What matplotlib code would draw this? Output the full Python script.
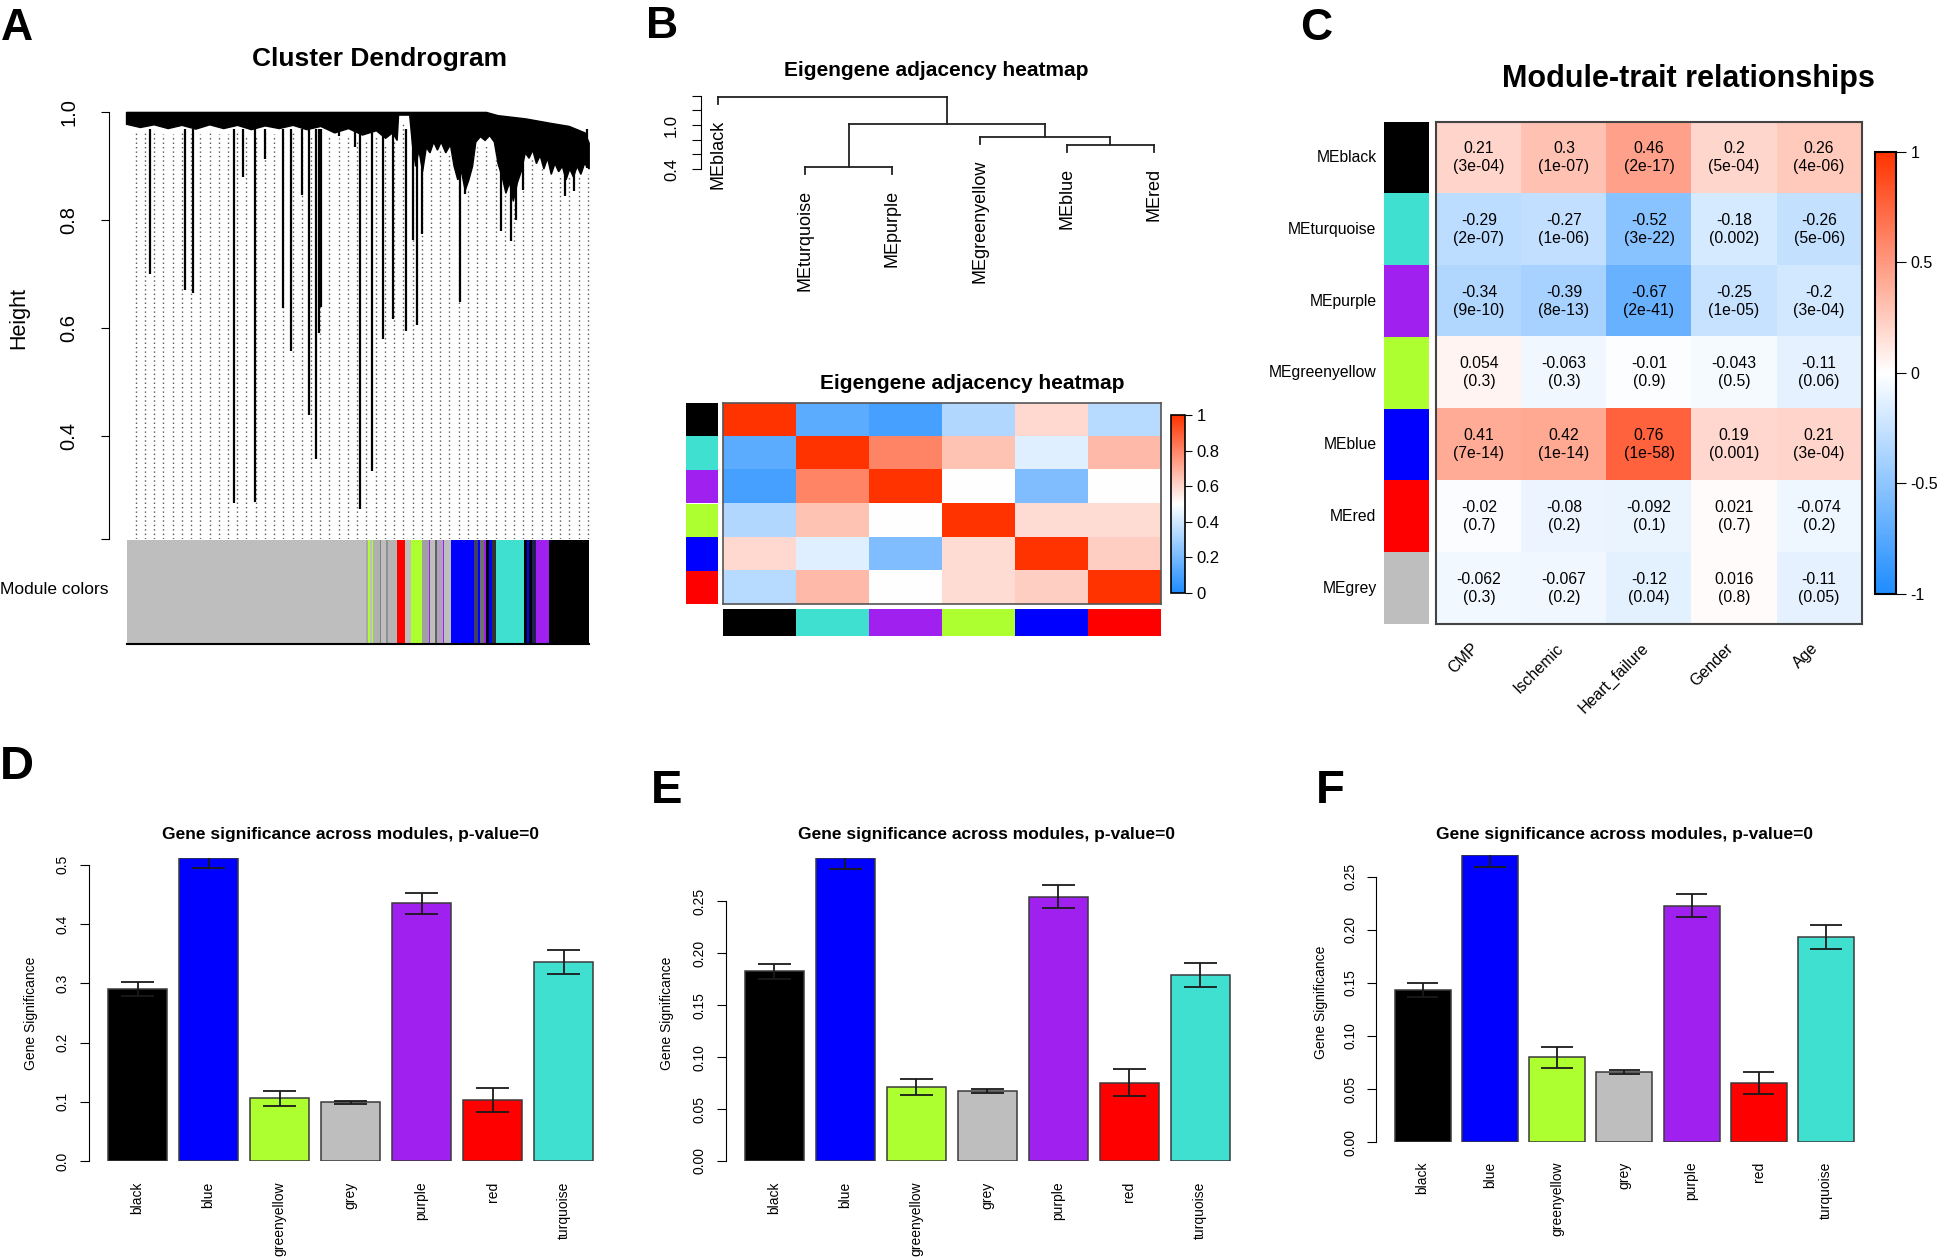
import numpy as np
import matplotlib
matplotlib.use('Agg')
import matplotlib.pyplot as plt
from matplotlib.colors import LinearSegmentedColormap, Normalize
from matplotlib.cm import ScalarMappable

plt.rcParams['font.family'] = ['Liberation Sans', 'DejaVu Sans']

# R colour names used by WGCNA
rcol = {'black': '#000000', 'blue': '#0000FF', 'greenyellow': '#ADFF2F', 'grey': '#BEBEBE',
        'purple': '#A020F0', 'red': '#FF0000', 'turquoise': '#40E0D0'}
bwr = LinearSegmentedColormap.from_list('bwr_wgcna', ['#1E8CFF', '#FFFFFF', '#FF3300'])

# ---------------- data ----------------
# A: gene dendrogram, x = fraction along leaf order
band_top_x = [0.0, 0.59, 0.778, 0.803, 0.863, 0.915, 0.957, 0.991, 1.0]
band_top_h = [1.0, 1.0, 1.0, 0.994, 0.988, 0.980, 0.974, 0.962, 0.943]
band_low_x = [0.0, 0.03, 0.06, 0.09, 0.12, 0.15, 0.18, 0.21, 0.24, 0.27, 0.30, 0.33, 0.36, 0.39,
              0.42, 0.45, 0.48, 0.51, 0.54, 0.56, 0.575, 0.585, 0.588, 0.612, 0.618, 0.625, 0.632,
              0.64, 0.648, 0.656, 0.664, 0.672, 0.68, 0.69, 0.70, 0.708, 0.716, 0.724, 0.732, 0.74,
              0.748, 0.755, 0.765, 0.775, 0.785, 0.795, 0.803, 0.812, 0.82, 0.828, 0.836, 0.845,
              0.853, 0.862, 0.87, 0.878, 0.886, 0.894, 0.902, 0.91, 0.918, 0.926, 0.934, 0.942,
              0.95, 0.958, 0.966, 0.974, 0.982, 0.99, 1.0]
band_low_h = [0.978, 0.972, 0.977, 0.970, 0.976, 0.969, 0.977, 0.970, 0.976, 0.968, 0.975, 0.970,
              0.976, 0.968, 0.974, 0.962, 0.970, 0.958, 0.966, 0.952, 0.962, 0.948, 0.995, 0.995,
              0.94, 0.90, 0.93, 0.89, 0.935, 0.925, 0.945, 0.93, 0.945, 0.925, 0.94, 0.90, 0.875,
              0.89, 0.855, 0.875, 0.90, 0.945, 0.955, 0.948, 0.957, 0.945, 0.905, 0.88, 0.85, 0.87,
              0.835, 0.87, 0.89, 0.925, 0.915, 0.93, 0.905, 0.92, 0.895, 0.915, 0.885, 0.905, 0.89,
              0.90, 0.875, 0.895, 0.88, 0.90, 0.885, 0.905, 0.895]
drop_x = [0.051, 0.126, 0.143, 0.232, 0.252, 0.278, 0.299, 0.339, 0.355, 0.380, 0.395, 0.410,
          0.415, 0.421, 0.460, 0.494, 0.504, 0.530, 0.554, 0.575, 0.603, 0.620, 0.628, 0.638,
          0.721, 0.731, 0.810, 0.832, 0.842, 0.857, 0.947, 0.968, 0.996]
drop_h = [0.70, 0.671, 0.666, 0.275, 0.88, 0.277, 0.913, 0.637, 0.558, 0.847, 0.439, 0.357,
          0.591, 0.64, 0.957, 0.935, 0.265, 0.335, 0.579, 0.617, 0.594, 0.763, 0.605, 0.775,
          0.648, 0.849, 0.78, 0.762, 0.80, 0.857, 0.845, 0.855, 0.896]
mod_edges = [0.0, 0.517, 0.523, 0.526, 0.530, 0.533, 0.548, 0.551, 0.562, 0.565, 0.585, 0.603,
             0.615, 0.639, 0.654, 0.657, 0.668, 0.671, 0.684, 0.687, 0.701, 0.752, 0.760, 0.765,
             0.772, 0.777, 0.784, 0.790, 0.799, 0.859, 0.866, 0.870, 0.877, 0.885, 0.913, 1.0]
mod_cols = ['#BEBEBE', '#A9A9A9', '#ADFF2F', '#BEBEBE', '#ADFF2F', '#B0B0B0', '#808080', '#BEBEBE',
            '#909090', '#B5B5B5', '#FF0000', '#BEBEBE', '#ADFF2F', '#A0A0A0', '#A020F0', '#BEBEBE',
            '#606060', '#B0A0C0', '#A020F0', '#BEBEBE', '#0000FF', '#404060', '#0000FF', '#707070',
            '#A020F0', '#000000', '#0000FF', '#303030', '#40E0D0', '#000000', '#0000FF', '#000000',
            '#202050', '#A020F0', '#000000']
n_guides = 50

# B: eigengene dendrogram + adjacency
me_names = ['MEblack', 'MEturquoise', 'MEpurple', 'MEgreenyellow', 'MEblue', 'MEred']
me_cols = ['black', 'turquoise', 'purple', 'greenyellow', 'blue', 'red']
me_merges = [(-2, -3, 0.431), (-5, -6, 0.724), (-4, 2, 0.841), (1, 3, 1.014), (-1, 4, 1.387)]
adjacency = np.array([
    [1.00, 0.14, 0.09, 0.33, 0.59, 0.34],
    [0.14, 1.00, 0.80, 0.645, 0.43, 0.67],
    [0.09, 0.80, 1.00, 0.50, 0.215, 0.50],
    [0.33, 0.645, 0.50, 1.00, 0.585, 0.585],
    [0.59, 0.43, 0.215, 0.585, 1.00, 0.62],
    [0.34, 0.67, 0.50, 0.585, 0.62, 1.00]])

# C: module-trait relationships
mt_rows = ['MEblack', 'MEturquoise', 'MEpurple', 'MEgreenyellow', 'MEblue', 'MEred', 'MEgrey']
mt_row_cols = ['black', 'turquoise', 'purple', 'greenyellow', 'blue', 'red', 'grey']
traits = ['CMP', 'Ischemic', 'Heart_failure', 'Gender', 'Age']
mt_cor = np.array([
    [0.21, 0.3, 0.46, 0.2, 0.26],
    [-0.29, -0.27, -0.52, -0.18, -0.26],
    [-0.34, -0.39, -0.67, -0.25, -0.2],
    [0.054, -0.063, -0.01, -0.043, -0.11],
    [0.41, 0.42, 0.76, 0.19, 0.21],
    [-0.02, -0.08, -0.092, 0.021, -0.074],
    [-0.062, -0.067, -0.12, 0.016, -0.11]])
mt_p = [['3e-04', '1e-07', '2e-17', '5e-04', '4e-06'],
        ['2e-07', '1e-06', '3e-22', '0.002', '5e-06'],
        ['9e-10', '8e-13', '2e-41', '1e-05', '3e-04'],
        ['0.3', '0.3', '0.9', '0.5', '0.06'],
        ['7e-14', '1e-14', '1e-58', '0.001', '3e-04'],
        ['0.7', '0.2', '0.1', '0.7', '0.2'],
        ['0.3', '0.2', '0.04', '0.8', '0.05']]

# D/E/F: gene significance across modules
modules = ['black', 'blue', 'greenyellow', 'grey', 'purple', 'red', 'turquoise']
gs_d = [0.291, 0.512, 0.106, 0.099, 0.435, 0.103, 0.336]
err_d = [0.012, 0.017, 0.013, 0.003, 0.0175, 0.020, 0.0195]
gs_e = [0.1826, 0.292, 0.0716, 0.0677, 0.2545, 0.0754, 0.1788]
err_e = [0.0074, 0.011, 0.0077, 0.002, 0.011, 0.0133, 0.0116]
gs_f = [0.1433, 0.2704, 0.080, 0.0662, 0.2227, 0.0558, 0.1935]
err_f = [0.0063, 0.011, 0.010, 0.002, 0.0107, 0.0104, 0.0113]

# ---------------- figure ----------------
W, H = 1946, 1257
fig = plt.figure(figsize=(W / 100, H / 100), dpi=100)


def box(x0, y0, x1, y1):
    return fig.add_axes([x0 / W, 1 - y1 / H, (x1 - x0) / W, (y1 - y0) / H])


def ftext(x, y, s, **kw):
    return fig.text(x / W, 1 - y / H, s, **kw)


def only_left(ax):
    for s in ['top', 'right', 'bottom']:
        ax.spines[s].set_visible(False)


# panel letters
for let, x, y, sz in [('A', 1, 40, 32), ('B', 646, 38, 32), ('C', 1300, 40, 32),
                      ('D', 0, 779, 34), ('E', 651, 803, 34), ('F', 1316, 803, 34)]:
    ftext(x, y, let, fontsize=sz, fontweight='bold', va='baseline')

# ---- A ----
ftext(380, 66, 'Cluster Dendrogram', fontsize=19, fontweight='bold', ha='center', va='baseline')
axA = box(108.7, 100, 607, 539)
axA.set_xlim(-0.0385, 1.0385)
axA.set_ylim(0.209, 1.023)
only_left(axA)
axA.spines['left'].set_bounds(0.209, 1.0)
axA.set_xticks([])
axA.set_yticks([0.209, 0.4, 0.6, 0.8, 1.0])
axA.set_yticklabels(['', '0.4', '0.6', '0.8', '1.0'], rotation=90, va='center', fontsize=14.5)
axA.tick_params(axis='y', length=6, pad=16)
gx = np.linspace(0.02, 0.997, n_guides)
gtop = np.interp(gx, band_low_x, band_low_h) - 0.012
axA.vlines(gx, 0.209, gtop, colors='#555555', linestyles=(0, (1, 2.2)), lw=1.0)
axA.fill(list(band_top_x) + band_low_x[::-1], list(band_top_h) + band_low_h[::-1], color='black', lw=1)
axA.vlines(drop_x, drop_h, 0.97, colors='black', lw=1.6)
ftext(19, 318, 'Height', fontsize=15.5, rotation=90, ha='center', va='center')

axM = box(126.5, 540, 589, 644)
axM.bar(mod_edges[:-1], [1] * len(mod_cols), width=np.diff(mod_edges), align='edge', color=mod_cols, lw=0)
axM.set_xlim(0, 1)
axM.set_ylim(0, 1)
axM.set_xticks([])
axM.set_yticks([])
for s in ['top', 'left', 'right']:
    axM.spines[s].set_visible(False)
axM.spines['bottom'].set_linewidth(1.5)
ftext(0, 590, 'Module colors', fontsize=12.5, va='center')

# ---- B dendrogram ----
ftext(936, 75.5, 'Eigengene adjacency heatmap', fontsize=15, fontweight='bold', ha='center', va='baseline')
axB = box(700.6, 90, 1171.5, 180)
axB.set_xlim(0.8, 6.2)
axB.set_ylim(0.25, 1.478)
only_left(axB)
axB.spines['left'].set_bounds(0.4, 1.4)
axB.set_xticks([])
axB.set_yticks([0.4, 0.6, 0.8, 1.0, 1.2, 1.4])
axB.set_yticklabels(['0.4', '', '', '1.0', '', ''], rotation=90, va='center', fontsize=12)
axB.tick_params(axis='y', length=6.5, pad=9)
hts = [m[2] for m in me_merges]
hang = 0.1 * (max(hts) - min(hts))
cl_x = {}
for k, (a, b, h) in enumerate(me_merges, start=1):
    xs = []
    for c in (a, b):
        if c < 0:
            x = -c
            axB.plot([x, x], [h - hang, h], color='#222222', lw=1.3)
            axB.annotate(me_names[x - 1], (x, h - hang), xytext=(0, -11.5), textcoords='offset points',
                         rotation=90, ha='center', va='top', fontsize=13, annotation_clip=False)
        else:
            x, hc = cl_x[c]
            axB.plot([x, x], [hc, h], color='#222222', lw=1.3)
        xs.append(x)
    axB.plot(xs, [h, h], color='#222222', lw=1.3)
    cl_x[k] = (np.mean(xs), h)

# ---- B heatmap ----
ftext(972, 389, 'Eigengene adjacency heatmap', fontsize=15, fontweight='bold', ha='center', va='baseline')
axH = box(723, 402.7, 1161, 604.3)
axH.imshow(adjacency, cmap=bwr, vmin=0, vmax=1, aspect='auto', interpolation='nearest')
axH.set_xticks([])
axH.set_yticks([])
for s in axH.spines.values():
    s.set_color('#555555')
    s.set_linewidth(1.2)
axL = box(685.7, 402.7, 717.5, 604.3)
axL.barh(np.arange(6), [1] * 6, height=1, color=[rcol[c] for c in me_cols], lw=0)
axL.set_ylim(5.5, -0.5)
axL.set_xlim(0, 1)
axL.axis('off')
axBt = box(723, 609.3, 1161, 636)
axBt.bar(np.arange(6), [1] * 6, width=1, color=[rcol[c] for c in me_cols], lw=0)
axBt.set_xlim(-0.5, 5.5)
axBt.set_ylim(0, 1)
axBt.axis('off')
caxB = box(1171, 415, 1184.6, 592.7)
cbB = fig.colorbar(ScalarMappable(Normalize(0, 1), bwr), cax=caxB)
cbB.set_ticks([0, 0.2, 0.4, 0.6, 0.8, 1])
cbB.set_ticklabels(['0', '0.2', '0.4', '0.6', '0.8', '1'])
cbB.ax.tick_params(labelsize=12, length=5)
cbB.outline.set_linewidth(1.2)

# ---- C ----
ftext(1688.5, 87.5, 'Module-trait relationships', fontsize=22, fontweight='bold', ha='center',
      va='baseline')
axC = box(1436.4, 121.7, 1861.6, 624)
axC.imshow(mt_cor, cmap=bwr, vmin=-1, vmax=1, aspect='auto', interpolation='nearest')
axC.set_xticks([])
axC.set_yticks([])
for s in axC.spines.values():
    s.set_color('#444444')
    s.set_linewidth(1.5)
for i in range(len(mt_rows)):
    for j in range(len(traits)):
        axC.text(j, i, f'{mt_cor[i, j]:.2g}\n({mt_p[i][j]})', ha='center', va='center',
                 fontsize=11.3, linespacing=1.25)
axCL = box(1384, 121.7, 1429.3, 624)
axCL.barh(np.arange(7), [1] * 7, height=1, color=[rcol[c] for c in mt_row_cols], lw=0)
axCL.set_ylim(6.5, -0.5)
axCL.set_xlim(0, 1)
axCL.axis('off')
row_h = (624 - 121.7) / 7
for i, name in enumerate(mt_rows):
    ftext(1376.5, 121.7 + row_h * (i + 0.5), name, fontsize=11.3, ha='right', va='center')
col_w = (1861.6 - 1436.4) / 5
for j, t in enumerate(traits):
    ftext(1436.4 + col_w * (j + 0.5) - 3, 646, t, fontsize=11.5, rotation=45, ha='right', va='center',
          rotation_mode='anchor')
caxC = box(1875, 151.7, 1896, 594)
cbC = fig.colorbar(ScalarMappable(Normalize(-1, 1), bwr), cax=caxC)
cbC.set_ticks([-1, -0.5, 0, 0.5, 1])
cbC.set_ticklabels(['-1', '-0.5', '0', '0.5', '1'])
cbC.ax.tick_params(labelsize=11.5, length=7)
cbC.outline.set_linewidth(1.5)


# ---- D / E / F ----
def gs_panel(x0, x1, ytop, ybot, vals, errs, ticks, labels, title_xy, ylab_x, xpad):
    ax = box(x0, ytop, x1, ybot)
    pos = 0.7 + 1.2 * np.arange(len(vals))
    ax.bar(pos, vals, width=1, color=[rcol[m] for m in modules], edgecolor='#3a3a3a', lw=1.1)
    lo = np.array(vals) - np.array(errs)
    hi = np.array(vals) + np.array(errs)
    ax.vlines(pos, lo, hi, colors='#1a1a1a', lw=1.3)
    ax.hlines(lo, pos - 0.28, pos + 0.28, colors='#1a1a1a', lw=1.3)
    ax.hlines(hi, pos - 0.28, pos + 0.28, colors='#1a1a1a', lw=1.3)
    ax.set_xlim(-0.128, 8.728)
    ax.set_ylim(0, max(vals))
    only_left(ax)
    ax.spines['left'].set_bounds(ticks[0], ticks[-1])
    ax.set_yticks(ticks)
    ax.set_yticklabels(labels, rotation=90, va='center', fontsize=10)
    ax.tick_params(axis='y', length=6.5, pad=7)
    ax.set_xticks(pos)
    ax.set_xticklabels(modules, rotation=90, va='top', ha='center', fontsize=10)
    ax.tick_params(axis='x', length=0, pad=xpad)
    ftext(title_xy[0], title_xy[1], 'Gene significance across modules, p-value=0', fontsize=12.5,
          fontweight='bold', ha='center', va='baseline')
    ftext(ylab_x, (ytop + ybot) / 2 + 4, 'Gene Significance', fontsize=10, rotation=90,
          ha='center', va='center')


gs_panel(88.6, 612.6, 857.7, 1161, gs_d, err_d, [0, 0.1, 0.2, 0.3, 0.4, 0.5],
         ['0.0', '0.1', '0.2', '0.3', '0.4', '0.5'], (351, 839.5), 30.6, 15)
gs_panel(725.5, 1249.2, 857.7, 1161, gs_e, err_e, [0, 0.05, 0.1, 0.15, 0.2, 0.25],
         ['0.00', '0.05', '0.10', '0.15', '0.20', '0.25'], (987, 839.5), 666.5, 15)
gs_panel(1376.2, 1872.4, 855, 1142.3, gs_f, err_f, [0, 0.05, 0.1, 0.15, 0.2, 0.25],
         ['0.00', '0.05', '0.10', '0.15', '0.20', '0.25'], (1624.7, 838.5), 1321, 14)

fig.savefig('out.png', dpi=100)
